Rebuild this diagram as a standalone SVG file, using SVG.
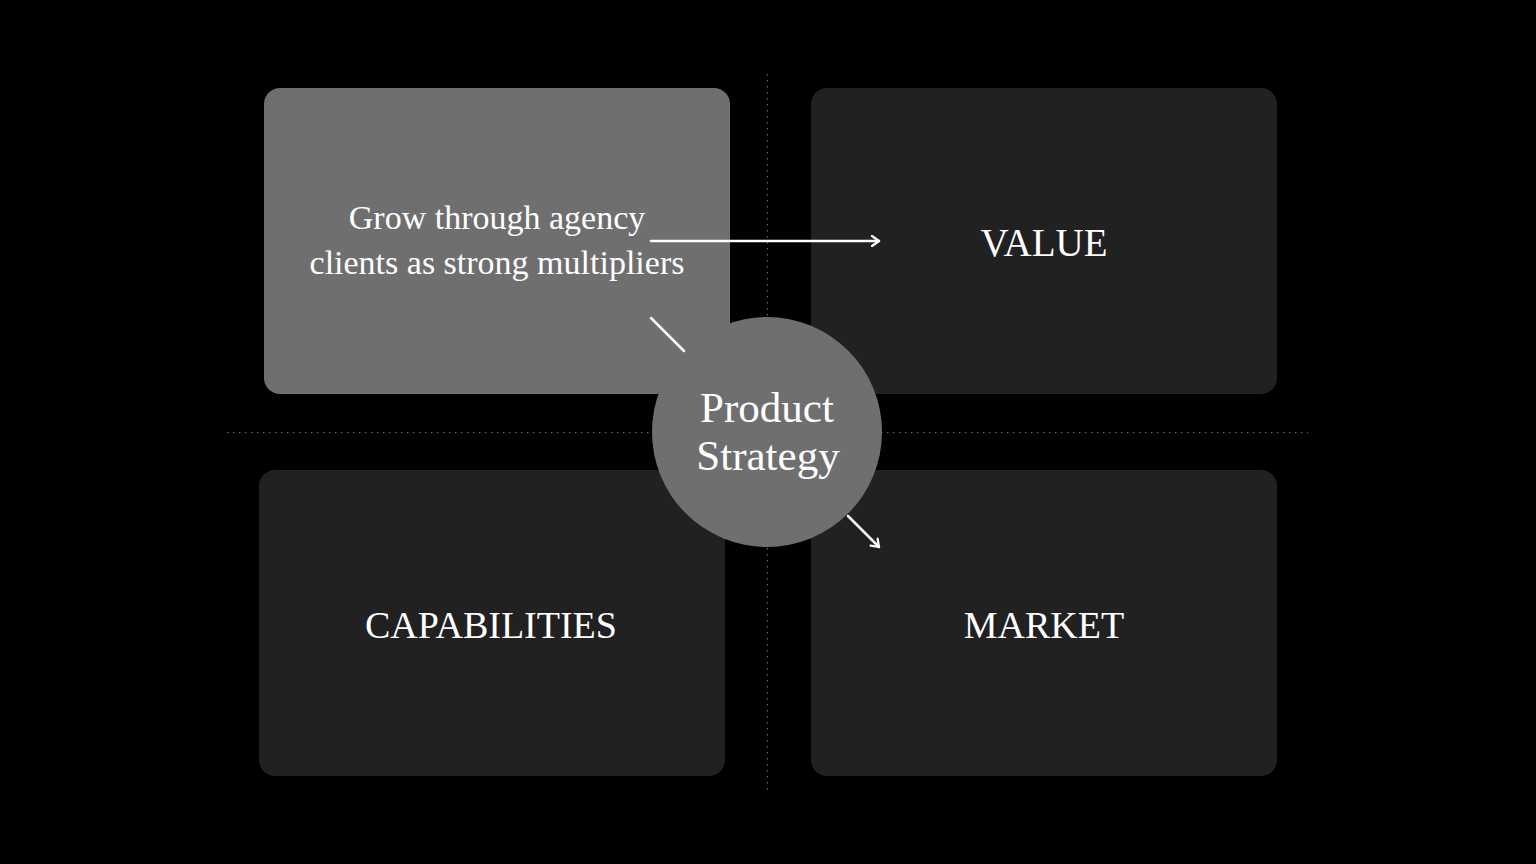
<svg xmlns="http://www.w3.org/2000/svg" width="1536" height="864" viewBox="0 0 1536 864">
<defs>
<style>
.box{fill:#212121}
.hl{fill:#6f6f6f}
.t{font-family:"Liberation Serif","DejaVu Serif",serif;fill:#ffffff;text-anchor:middle}
.grid{stroke:#6a6a6a;stroke-width:1.2;stroke-dasharray:1.5 4.5;fill:none}
.con{stroke:#ffffff;stroke-width:2.5;fill:none;stroke-linecap:round}
</style>
<marker id="arr" viewBox="0 0 12 12" refX="10" refY="6" markerWidth="12" markerHeight="12" markerUnits="userSpaceOnUse" orient="auto">
<path d="M3,1 L10,6 L3,11" fill="none" stroke="#ffffff" stroke-width="2.2" stroke-linecap="round" stroke-linejoin="round"/>
</marker>
</defs>
<rect width="1536" height="864" fill="#000000"/>
<g id="grid">
<line class="grid" x1="767.5" y1="74" x2="767.5" y2="792"/>
<line class="grid" x1="227" y1="432.5" x2="1308" y2="432.5"/>
</g>
<g id="node-agency">
<rect class="hl" x="264" y="88" width="466" height="306" rx="16"/>
<text class="t" font-size="34"><tspan x="497" y="229">Grow through agency</tspan><tspan x="497" y="274">clients as strong multipliers</tspan></text>
</g>
<g id="node-value">
<rect class="box" x="811" y="88" width="466" height="306" rx="16"/>
<text class="t" x="1044" y="256" font-size="39">VALUE</text>
</g>
<g id="node-capabilities">
<rect class="box" x="259" y="470" width="466" height="306" rx="16"/>
<text class="t" x="491" y="638" font-size="38">CAPABILITIES</text>
</g>
<g id="node-market">
<rect class="box" x="811" y="470" width="466" height="306" rx="16"/>
<text class="t" x="1044" y="638" font-size="38">MARKET</text>
</g>
<g id="node-strategy">
<circle class="hl" cx="767" cy="432" r="115"/>
<text class="t" font-size="43"><tspan x="767" y="422">Product</tspan><tspan x="768" y="470">Strategy</tspan></text>
</g>
<g id="connectors">
<line class="con" x1="651" y1="241" x2="879" y2="241" marker-end="url(#arr)"/>
<line class="con" x1="651" y1="318" x2="684" y2="351"/>
<line class="con" x1="848" y1="516" x2="879" y2="547" marker-end="url(#arr)"/>
</g>
</svg>
